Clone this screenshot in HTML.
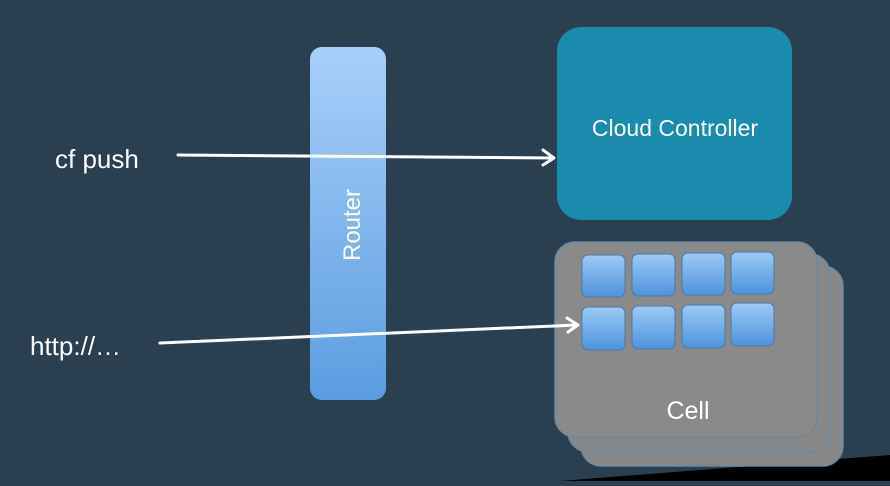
<!DOCTYPE html>
<html><head><style>
body{margin:0;width:890px;height:481px;overflow:hidden;background:#2a3f4f;font-family:"Liberation Sans",sans-serif}
</style></head><body>
<svg width="890" height="481" viewBox="0 0 890 481" xmlns="http://www.w3.org/2000/svg">
<defs>
<linearGradient id="rg" x1="0" y1="0" x2="0" y2="1"><stop offset="0" stop-color="#a9cffa"/><stop offset="1" stop-color="#5b9de0"/></linearGradient>
<linearGradient id="sg" x1="0" y1="0" x2="0" y2="1"><stop offset="0" stop-color="#9ccaf6"/><stop offset="1" stop-color="#4f93dc"/></linearGradient>
</defs>
<rect width="890" height="481" fill="#2a3f4f"/>
<polygon points="560,481 890,455 890,481" fill="#000"/>
<rect x="310" y="47" width="76" height="353" rx="12" fill="url(#rg)"/>
<text x="0" y="0" transform="translate(360,225) rotate(-90)" text-anchor="middle" fill="#fff" font-size="24">Router</text>
<rect x="557" y="27" width="235" height="193" rx="24" fill="#1a8aad"/>
<text x="675" y="136" text-anchor="middle" fill="#fff" font-size="23">Cloud Controller</text>
<rect x="581" y="266" width="262" height="200" rx="20" fill="#888" stroke="#6a8aa3" stroke-width="1.5"/>
<rect x="568" y="254" width="262" height="198" rx="20" fill="#888" stroke="#6a8aa3" stroke-width="1.5"/>
<rect x="555" y="242" width="262" height="195" rx="20" fill="#8a8a8a" stroke="#6a8aa3" stroke-width="1.5"/>
<g fill="url(#sg)" stroke="#4a78a8" stroke-width="1">
<rect x="582" y="255" width="43" height="42" rx="6"/><rect x="632" y="254" width="43" height="42" rx="6"/><rect x="682" y="253" width="43" height="42" rx="6"/><rect x="731" y="252" width="43" height="42" rx="6"/>
<rect x="582" y="307" width="43" height="43" rx="6"/><rect x="632" y="306" width="43" height="43" rx="6"/><rect x="682" y="305" width="43" height="43" rx="6"/><rect x="731" y="303" width="43" height="43" rx="6"/>
</g>
<text x="688" y="419" text-anchor="middle" fill="#fff" font-size="25">Cell</text>
<text x="55" y="168" fill="#fff" font-size="26">cf push</text>
<text x="30" y="355" fill="#fff" font-size="26">http://…</text>
<g stroke="#fff" stroke-width="3" fill="none" stroke-linecap="round" stroke-linejoin="round">
<line x1="178" y1="155" x2="553" y2="158"/><polyline points="543,150 554,158 543,165"/>
<line x1="160" y1="343" x2="577" y2="325"/><polyline points="567,318 578,325 568,332"/>
</g>
</svg>
</body></html>
